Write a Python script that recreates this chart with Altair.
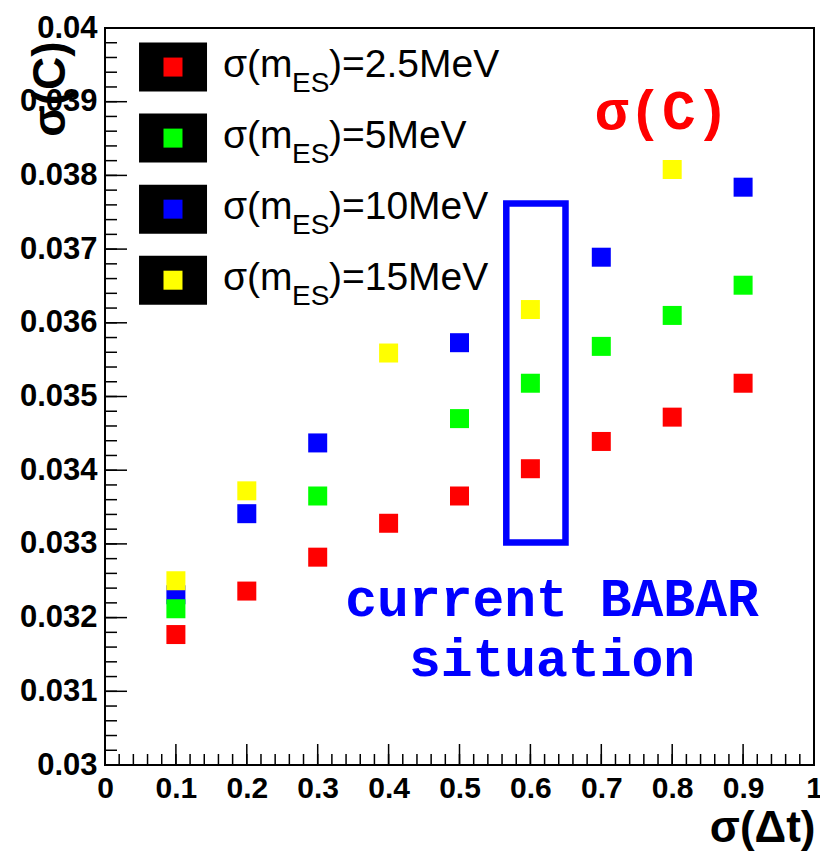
import altair as alt
import pandas as pd

# ---- data ----
sigma_dt = [0.1, 0.2, 0.3, 0.4, 0.5, 0.6, 0.7, 0.8, 0.9]
c_m2p5 = [0.03177, 0.03236, 0.03282, 0.03328, 0.03365, 0.03402, 0.03439, 0.03472, 0.03518]
c_m5 = [0.03212, None, 0.03365, None, 0.03470, 0.03518, 0.03568, 0.03610, 0.03651]
c_m10 = [0.03231, 0.03341, 0.03437, None, 0.03573, None, 0.03689, None, 0.03784]
c_m15 = [0.03250, 0.03372, None, 0.03559, None, 0.03618, None, 0.03808, None]

series_names = ["2.5MeV", "5MeV", "10MeV", "15MeV"]
series_colors = ["#ff0000", "#00ff00", "#0000ff", "#ffff00"]
draw_order = ["10MeV", "2.5MeV", "5MeV", "15MeV"]

x_tick_labels = [0, 0.1, 0.2, 0.3, 0.4, 0.5, 0.6, 0.7, 0.8, 0.9, 1.0]
y_tick_labels = [0.030, 0.031, 0.032, 0.033, 0.034, 0.035, 0.036, 0.037, 0.038, 0.039, 0.040]

band_x = [0.566, 0.6495]
band_y = [0.03302, 0.03762]

note_lines = ["current BABAR", "situation"]
note_x = 0.6305
note_y = [0.03224, 0.031426]

# ---- build tables ----
series_vals = dict(zip(series_names, [c_m2p5, c_m5, c_m10, c_m15]))
rows = []
for name in draw_order:
    for xv, yv in zip(sigma_dt, series_vals[name]):
        if yv is not None:
            rows.append({"sdt": xv, "sc": yv, "series": name})
pts = pd.DataFrame(rows)

W, H = 709, 737
xs = alt.Scale(domain=[0, 1], nice=False, zero=False)
ys = alt.Scale(domain=[0.03, 0.04], nice=False, zero=False)
cscale = alt.Scale(domain=series_names, range=series_colors)

FONT = "Liberation Sans"

x_axis = alt.Axis(values=x_tick_labels, format="~g", title="σ(Δt)",
                  domain=False, ticks=False, grid=False,
                  labelFont=FONT, labelFontWeight="bold", labelFontSize=30,
                  labelColor="black", labelPadding=8, labelFlush=False,
                  labelOverlap=False,
                  titleFont=FONT, titleFontWeight="bold", titleFontSize=44,
                  titleColor="black", titleAnchor="end", titleAlign="right",
                  titleBaseline="alphabetic", titleX=W + 1, titleY=76)
y_axis = alt.Axis(values=y_tick_labels, format="~g", title="σ(C)",
                  domain=False, ticks=False, grid=False,
                  labelFont=FONT, labelFontWeight="bold", labelFontSize=31,
                  labelColor="black", labelPadding=8, labelFlush=False,
                  labelOverlap=False,
                  titleFont=FONT, titleFontWeight="bold", titleFontSize=46,
                  titleColor="black", titleAngle=270, titleAlign="right",
                  titleBaseline="middle", titleX=-55, titleY=13)

scatter = alt.Chart(pts).mark_square(size=361, opacity=1, filled=True).encode(
    x=alt.X("sdt:Q", scale=xs, axis=x_axis),
    y=alt.Y("sc:Q", scale=ys, axis=y_axis),
    color=alt.Color("series:N", scale=cscale, legend=None),
)

# ---- inside ticks (ROOT style) ----
y_major = pd.DataFrame({"v": y_tick_labels})
y_minor = pd.DataFrame({"v": [round(0.030 + 0.0002 * i, 5) for i in range(51)]})
x_major = pd.DataFrame({"v": x_tick_labels})
x_minor = pd.DataFrame({"v": [round(0.02 * i, 3) for i in range(51)]})

tick_style = dict(color="black", strokeWidth=1.5)
ytm = alt.Chart(y_major).mark_rule(**tick_style).encode(
    y=alt.Y("v:Q", scale=ys, axis=None), x=alt.value(0), x2=alt.value(22))
ytn = alt.Chart(y_minor).mark_rule(**tick_style).encode(
    y=alt.Y("v:Q", scale=ys, axis=None), x=alt.value(0), x2=alt.value(12))
xtm = alt.Chart(x_major).mark_rule(**tick_style).encode(
    x=alt.X("v:Q", scale=xs, axis=None), y=alt.value(H), y2=alt.value(H - 21))
xtn = alt.Chart(x_minor).mark_rule(**tick_style).encode(
    x=alt.X("v:Q", scale=xs, axis=None), y=alt.value(H), y2=alt.value(H - 11))

# ---- blue box ----
box_df = pd.DataFrame({"x1": [band_x[0]], "x2": [band_x[1]], "y1": [band_y[0]], "y2": [band_y[1]]})
box = alt.Chart(box_df).mark_rect(filled=False, stroke="#0000ff", strokeWidth=6.5).encode(
    x=alt.X("x1:Q", scale=xs, axis=None), x2="x2:Q",
    y=alt.Y("y1:Q", scale=ys, axis=None), y2="y2:Q")

# ---- annotations ----
note_df = pd.DataFrame({"t": note_lines, "x": [note_x] * 2, "y": note_y})
note = alt.Chart(note_df).mark_text(font="Liberation Mono", fontWeight="bold", fontSize=53,
                                    color="#0000ff", align="center", baseline="middle").encode(
    x=alt.X("x:Q", scale=xs, axis=None), y=alt.Y("y:Q", scale=ys, axis=None), text="t:N")

sc_df = pd.DataFrame({"t": ["σ(C)"], "x": [0.7856], "y": [0.038864]})
sc_note = alt.Chart(sc_df).mark_text(font="Liberation Mono", fontWeight="bold", fontSize=56,
                                     color="#ff0000", align="center", baseline="middle").encode(
    x=alt.X("x:Q", scale=xs, axis=None), y=alt.Y("y:Q", scale=ys, axis=None), text="t:N")

# ---- legend (drawn as layers) ----
leg_y0, leg_step, leg_half = 0.03947, 0.000964, 0.0003325
leg = pd.DataFrame({
    "series": series_names,
    "yc": [leg_y0 - i * leg_step for i in range(4)],
})
leg["y1"] = leg["yc"] - leg_half
leg["y2"] = leg["yc"] + leg_half
leg["xa"] = 0.048
leg["xb"] = 0.1439
leg["xc"] = 0.0959
leg["xt"] = 0.1664
leg["p1"] = "σ(m"
leg["p2"] = "ES"
leg["p3"] = ")=" + leg["series"]

leg_bg = alt.Chart(leg).mark_rect(color="black").encode(
    x=alt.X("xa:Q", scale=xs, axis=None), x2="xb:Q",
    y=alt.Y("y1:Q", scale=ys, axis=None), y2="y2:Q")
leg_sym = alt.Chart(leg).mark_square(size=361, opacity=1, filled=True).encode(
    x=alt.X("xc:Q", scale=xs, axis=None), y=alt.Y("yc:Q", scale=ys, axis=None),
    color=alt.Color("series:N", scale=cscale, legend=None))
t1 = alt.Chart(leg).mark_text(font=FONT, fontSize=39, align="left", baseline="alphabetic",
                              dy=9.5, color="black").encode(
    x=alt.X("xt:Q", scale=xs, axis=None), y=alt.Y("yc:Q", scale=ys, axis=None), text="p1:N")
t2 = alt.Chart(leg).mark_text(font=FONT, fontSize=28, align="left", baseline="alphabetic",
                              dx=69, dy=24.5, color="black").encode(
    x=alt.X("xt:Q", scale=xs, axis=None), y=alt.Y("yc:Q", scale=ys, axis=None), text="p2:N")
t3 = alt.Chart(leg).mark_text(font=FONT, fontSize=39, align="left", baseline="alphabetic",
                              dx=106, dy=9.5, color="black").encode(
    x=alt.X("xt:Q", scale=xs, axis=None), y=alt.Y("yc:Q", scale=ys, axis=None), text="p3:N")

chart = alt.layer(
    scatter, ytn, ytm, xtn, xtm, box, note, sc_note, leg_bg, leg_sym, t1, t2, t3
).resolve_axis(
    x="independent", y="independent"
).properties(
    width=W, height=H,
    autosize=alt.AutoSizeParams(type="none"),
    padding={"left": 105, "top": 28, "right": 6, "bottom": 88},
    background="white",
).configure_view(stroke="black", strokeWidth=2)

chart.save("out.html", embed_options={"renderer": "svg", "actions": False})
